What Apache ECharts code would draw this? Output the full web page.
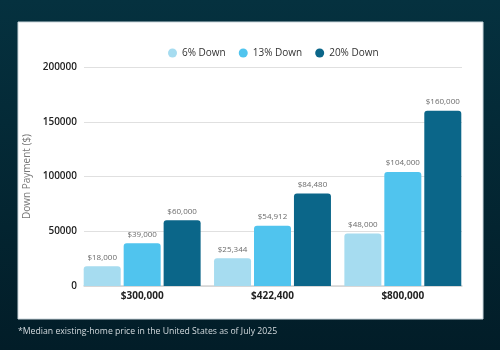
<!DOCTYPE html>
<html>
<head>
<meta charset="utf-8">
<script src="https://cdn.jsdelivr.net/npm/echarts@6/dist/echarts.min.js"></script>
<style>
  html, body { margin: 0; padding: 0; }
  #chart { width: 500px; height: 350px; }
</style>
</head>
<body>
<div id="chart"></div>
<script>
// home prices (categories) and down payment amounts per series
var prices = ['$300,000', '$422,400', '$800,000'];
var seriesNames = ['6% Down', '13% Down', '20% Down'];
var down6 = [18000, 25344, 48000];
var down13 = [39000, 54912, 104000];
var down20 = [60000, 84480, 160000];
var yTicks = { min: 0, max: 200000, interval: 50000 };

var colors = ['#a6dcf0', '#50c4ee', '#0b6689'];
var font = 'Open Sans';

function money(v) {
    return '$' + v.toLocaleString('en-US');
}

function makeSeries(name, data, color) {
    return {
        name: name,
        type: 'bar',
        xAxisIndex: 1,
        yAxisIndex: 1,
        barWidth: 37,
        barGap: '8%',
        data: data,
        itemStyle: { color: color, borderRadius: [3, 3, 0, 0] },
        label: {
            show: true,
            position: 'top',
            distance: 5,
            color: '#6b6b6b',
            fontFamily: font,
            fontSize: 8,
            formatter: function (p) { return money(p.value); }
        }
    };
}

var myChart = echarts.init(document.getElementById('chart'));

var option = {
    backgroundColor: {
        type: 'linear', x: 0, y: 0, x2: 0, y2: 1,
        colorStops: [{ offset: 0, color: '#05313f' }, { offset: 1, color: '#021d28' }]
    },
    animation: false,
    graphic: [
        {
            type: 'rect',
            z: -10,
            shape: { x: 18, y: 22, width: 465, height: 297 },
            style: { fill: '#ffffff', stroke: '#c9d5db', lineWidth: 1 }
        },
        {
            type: 'text',
            left: 18,
            top: 327,
            style: {
                text: '*Median existing-home price in the United States as of July 2025',
                fill: '#d3dade',
                font: '8.7px "Open Sans"'
            }
        }
    ],
    legend: {
        data: seriesNames,
        left: 168,
        top: 48,
        padding: 0,
        icon: 'circle',
        itemWidth: 9,
        itemHeight: 9,
        itemGap: 13,
        textStyle: { color: '#333', fontFamily: font, fontSize: 10, fontWeight: 500 }
    },
    grid: [
        { left: 84, right: 38, top: 67, bottom: 64 },
        { left: 77, right: 32, top: 67, bottom: 64 }
    ],
    xAxis: [
        {
            type: 'category',
            gridIndex: 0,
            data: prices,
            axisLine: { show: true, lineStyle: { color: '#d4d4d4', width: 1.5 } },
            axisTick: { show: false },
            axisLabel: { show: false }
        },
        {
            type: 'category',
            gridIndex: 1,
            data: prices,
            axisLine: { show: false },
            axisTick: { show: false },
            axisLabel: { color: '#222', fontFamily: font, fontWeight: 'bold', fontSize: 10, margin: 5 }
        }
    ],
    yAxis: [
        {
            type: 'value',
            gridIndex: 0,
            min: yTicks.min,
            max: yTicks.max,
            interval: yTicks.interval,
            name: 'Down Payment ($)',
            nameLocation: 'middle',
            nameGap: 42,
            nameTextStyle: { color: '#777', fontFamily: font, fontSize: 10 },
            axisLabel: {
                color: '#222', fontFamily: font, fontWeight: 600, fontSize: 10, margin: 7,
                formatter: function (v) { return String(v); }
            },
            splitLine: { lineStyle: { color: '#e0e0e0', width: 1.2 } }
        },
        {
            type: 'value',
            gridIndex: 1,
            min: yTicks.min,
            max: yTicks.max,
            interval: yTicks.interval,
            show: false,
            splitLine: { show: false }
        }
    ],
    series: [
        makeSeries(seriesNames[0], down6, colors[0]),
        makeSeries(seriesNames[1], down13, colors[1]),
        makeSeries(seriesNames[2], down20, colors[2])
    ]
};

myChart.setOption(option);
</script>
</body>
</html>
